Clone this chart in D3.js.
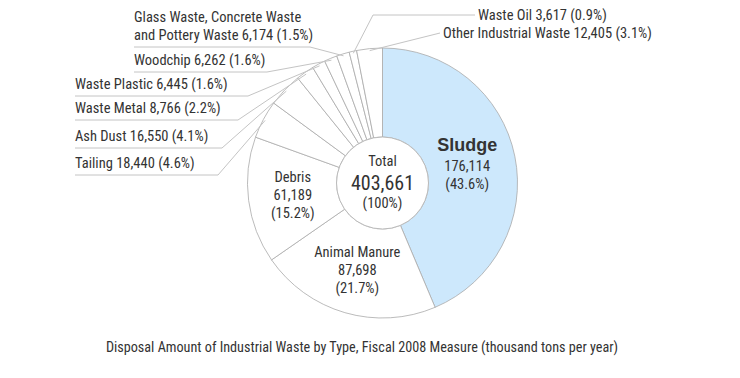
<!DOCTYPE html>
<html><head><meta charset="utf-8">
<script src="https://cdn.jsdelivr.net/npm/d3@7"></script>
<style>
body{margin:0;background:#fff;}
svg text{font-family:"Liberation Sans Narrow","Arial Narrow","Roboto Condensed",sans-serif;fill:#333;}
</style></head>
<body><svg id="c" width="740" height="378"></svg>
<script>
const categories = ["Sludge","Animal Manure","Debris","Tailing","Ash Dust","Waste Metal","Waste Plastic","Woodchip","Glass Waste, Concrete Waste and Pottery Waste","Waste Oil","Other Industrial Waste"];
const values = [176114,87698,61189,18440,16550,8766,6445,6262,6174,3617,12405];
const totalValue = 403661;
const titleText = "Disposal Amount of Industrial Waste by Type, Fiscal 2008 Measure (thousand tons per year)";

// layout for outside labels (index into categories)
const outsideLayout = [
  {i:3, lines:["Tailing"], side:"L", x:75, uy:175, ex:218},
  {i:4, lines:["Ash Dust"], side:"L", x:75, uy:148, ex:222},
  {i:5, lines:["Waste Metal"], side:"L", x:75, uy:120, ex:238},
  {i:6, lines:["Waste Plastic"], side:"L", x:75, uy:96, ex:248},
  {i:7, lines:["Woodchip"], side:"L", x:134, uy:72, ex:267},
  {i:8, lines:["Glass Waste, Concrete Waste","and Pottery Waste"], side:"L", x:134, uy:47, ex:310},
  {i:9, lines:["Waste Oil"], side:"R", x:478, cy:15, ex:373},
  {i:10, lines:["Other Industrial Waste"], side:"R", x:443, cy:33, ex:440}
];

const svg = d3.select("#c");
const cx = 382.5, cy = 183, R = 135, r0 = 46;
const fs = "14.5px";
const fmt = d3.format(",");
const pct = v => "(" + (v/totalValue*100).toFixed(1) + "%)";

const pie = d3.pie().sort(null).value(d => d)(values);
const arc = d3.arc().innerRadius(r0).outerRadius(R);
const g = svg.append("g").attr("transform", `translate(${cx},${cy})`);

g.selectAll("path.s").data(pie).join("path")
  .attr("d", arc)
  .attr("fill", (d,i) => i === 0 ? "#cde8fc" : "#fff")
  .attr("stroke", "#aaa").attr("stroke-width", 0.8);

g.append("circle").attr("r", r0).attr("fill", "#fff").attr("stroke", "#bbb").attr("stroke-width", 1);

// center text
g.append("text").attr("text-anchor","middle").attr("y",-22).attr("dy","0.35em").style("font-size",fs).text("Total");
g.append("text").attr("text-anchor","middle").attr("y",0).attr("dy","0.35em").style("font-size","20px").text(fmt(totalValue));
g.append("text").attr("text-anchor","middle").attr("y",20).attr("dy","0.35em").style("font-size",fs).text("(100%)");

// inside labels for the three big slices
[0,1,2].forEach(i => {
  const c = arc.centroid(pie[i]);
  const t = g.append("text").attr("text-anchor","middle");
  if (i === 0) {
    t.append("tspan").attr("x", c[0]-4).attr("y", c[1]-20).attr("dy","0.35em")
      .style("font-family","'Liberation Sans',Arial,sans-serif").style("font-weight","bold").style("font-size","18px").text(categories[i]);
    t.append("tspan").attr("x", c[0]-4).attr("y", c[1]+1).attr("dy","0.35em").style("font-size",fs).text(fmt(values[i]));
    t.append("tspan").attr("x", c[0]-4).attr("y", c[1]+19).attr("dy","0.35em").style("font-size",fs).text(pct(values[i]));
  } else {
    [categories[i], fmt(values[i]), pct(values[i])].forEach((s,k) => {
      t.append("tspan").attr("x", c[0]).attr("y", c[1] - 18 + k*18).attr("dy","0.35em").style("font-size",fs).text(s);
    });
  }
});

// outside labels
const lead = svg.append("g");
outsideLayout.forEach(L => {
  const a = (pie[L.i].startAngle + pie[L.i].endAngle) / 2;
  const rr = 133;
  const px = cx + rr*Math.sin(a), py = cy - rr*Math.cos(a);
  const label = L.lines.slice(0,-1).concat([L.lines[L.lines.length-1] + " " + fmt(values[L.i]) + " " + pct(values[L.i])]);
  if (L.side === "L") {
    const n = label.length;
    label.forEach((s,k) => {
      svg.append("text").attr("x", L.x).attr("y", L.uy - 7 - (n-1-k)*18).style("font-size",fs).text(s);
    });
    lead.append("polyline").attr("points", `${L.x},${L.uy} ${L.ex},${L.uy} ${px},${py}`)
      .attr("fill","none").attr("stroke","#c4c4c4").attr("stroke-width",1);
  } else {
    svg.append("text").attr("x", L.x).attr("y", L.cy).attr("dy","0.35em").style("font-size",fs).text(label[0]);
    lead.append("polyline").attr("points", `${L.x-3},${L.cy} ${L.ex},${L.cy} ${px},${py}`)
      .attr("fill","none").attr("stroke","#c4c4c4").attr("stroke-width",1);
  }
});

svg.append("text").attr("x", 362).attr("y", 347).attr("dy","0.35em").attr("text-anchor","middle")
  .style("font-size","14.2px").text(titleText);
</script></body></html>
